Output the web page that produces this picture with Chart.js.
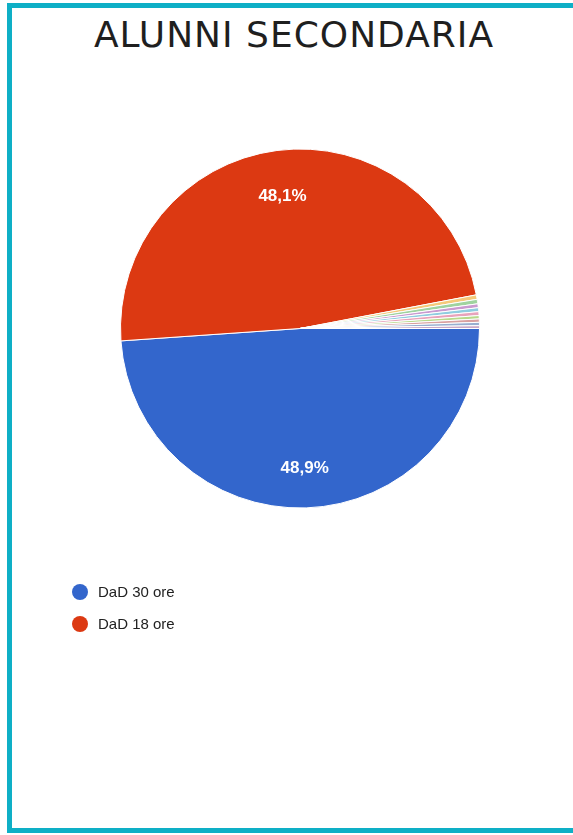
<!DOCTYPE html>
<html>
<head>
<meta charset="utf-8">
<script src="https://cdn.jsdelivr.net/npm/chart.js@4"></script>
<style>
  html, body { margin: 0; padding: 0; background: #fff; width: 573px; height: 835px; overflow: hidden; }
  .frame { position: absolute; left: 7px; top: 3px; width: 600px; height: 830px; border: 5px solid #0eafc6; box-sizing: border-box; }
  .title { position: absolute; left: 0; top: 14px; width: 588px; text-align: center; font-family: "DejaVu Sans", sans-serif; font-size: 36px; color: #1f1f1f; letter-spacing: 1px; }
  #pie { position: absolute; left: 0; top: 0; }
  .legend { position: absolute; left: 72px; top: 581px; font-family: Arial, "Liberation Sans", sans-serif; font-size: 15px; color: #222; }
  .legend div { height: 32px; line-height: 22px; display: flex; align-items: flex-start; }
  .legend span.dot { width: 16px; height: 16px; border-radius: 50%; margin: 3px 10px 0 0; display: inline-block; }
</style>
</head>
<body>
<div class="frame"></div>
<div class="title">ALUNNI SECONDARIA</div>
<canvas id="pie" width="573" height="835"></canvas>
<div class="legend" id="legend"></div>
<script>
const labels = ["DaD 30 ore", "DaD 18 ore", "Altro 1", "Altro 2", "Altro 3", "Altro 4", "Altro 5", "Altro 6", "Altro 7", "Altro 8", "Altro 9"];
const values = [48.9, 48.1, 0.4, 0.4, 0.35, 0.35, 0.35, 0.3, 0.3, 0.3, 0.25];
const colors = ["#3366cc", "#dc3912", "#f5c97a", "#9fd39f", "#c99ad0", "#8fcde0", "#e8a3bb", "#b8d98a", "#d9a0a0", "#98aed0", "#c8a8c8"];
const legendCount = 2;

// percentage labels inside the big slices
const sliceLabels = {
  id: "sliceLabels",
  afterDatasetsDraw(chart) {
    const ctx = chart.ctx;
    const meta = chart.getDatasetMeta(0);
    const total = values.reduce((a, b) => a + b, 0);
    ctx.save();
    ctx.font = "bold 17px Arial, 'Liberation Sans', sans-serif";
    ctx.fillStyle = "#fff";
    ctx.textAlign = "center";
    ctx.textBaseline = "middle";
    meta.data.forEach((arc, i) => {
      const pct = values[i] / total * 100;
      if (pct < 5) return;
      const mid = (arc.startAngle + arc.endAngle) / 2;
      const r = arc.outerRadius * 0.76;
      ctx.fillText(pct.toFixed(1).replace(".", ",") + "%", arc.x + Math.cos(mid) * r, arc.y + Math.sin(mid) * r + 3);
    });
    ctx.restore();
  }
};

new Chart(document.getElementById("pie"), {
  type: "pie",
  data: {
    labels,
    datasets: [{ data: values, backgroundColor: colors, borderColor: "#fff", borderWidth: 1 }]
  },
  options: {
    responsive: false,
    animation: false,
    rotation: 90,
    layout: { padding: { left: 120, right: 93, top: 148, bottom: 326 } },
    plugins: { legend: { display: false }, tooltip: { enabled: false } }
  },
  plugins: [sliceLabels]
});

$legend = document.getElementById("legend");
$legend.innerHTML = labels.slice(0, legendCount).map((l, i) =>
  `<div><span class="dot" style="background:${colors[i]}"></span>${l}</div>`).join("");
</script>
</body>
</html>
